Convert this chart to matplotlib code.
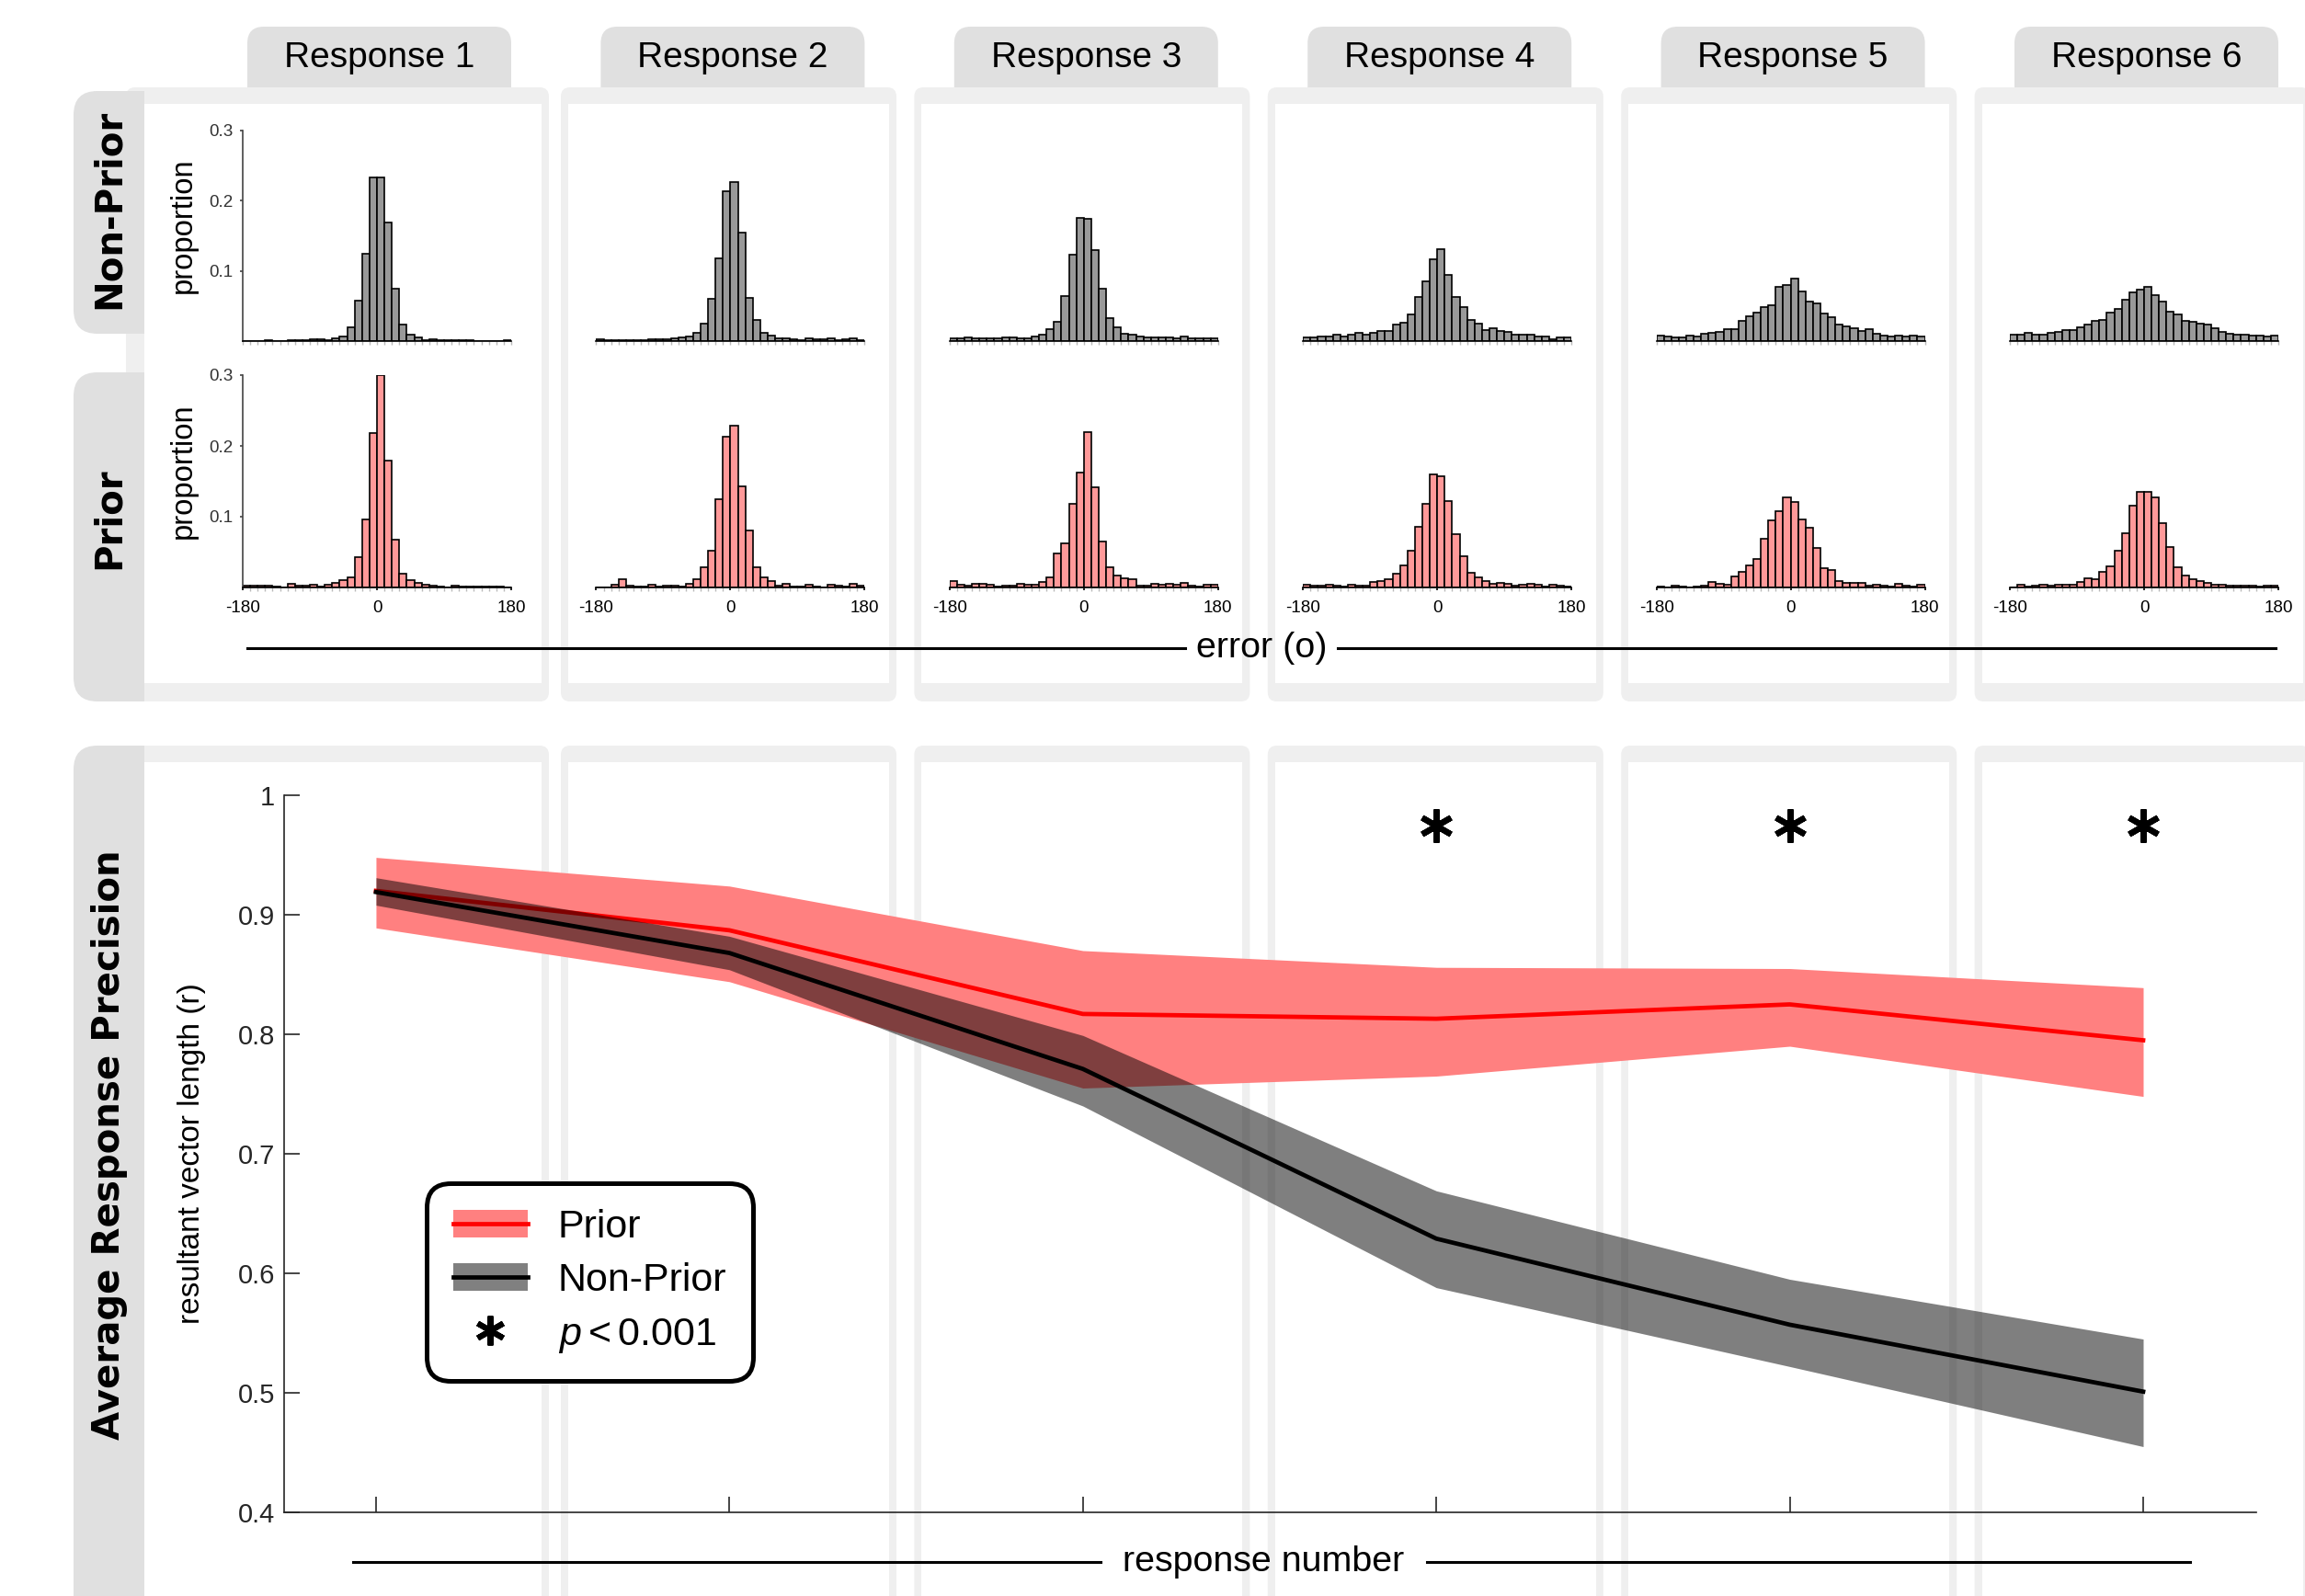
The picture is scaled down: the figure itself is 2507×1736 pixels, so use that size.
import numpy as np
import matplotlib.pyplot as plt
from matplotlib.patches import FancyBboxPatch, Rectangle, Patch
from matplotlib.lines import Line2D
from matplotlib.legend_handler import HandlerTuple

W, H, DPI = 2507, 1736, 200

plt.rcParams['font.family'] = ['Liberation Sans', 'DejaVu Sans']
plt.rcParams['mathtext.fontset'] = 'custom'
plt.rcParams['mathtext.rm'] = 'Liberation Sans'
plt.rcParams['mathtext.it'] = 'Liberation Sans:italic'

# ---- data ----
BIN_EDGES = np.arange(-180, 181, 10)   # 36 bins of 10 deg
RESPONSES = [1, 2, 3, 4, 5, 6]
RESPONSE_LABELS = ['Response 1', 'Response 2', 'Response 3', 'Response 4', 'Response 5', 'Response 6']

# proportion per error bin, non-prior trials
NONPRIOR_R1 = [0.0005, 0.0005, 0.0005, 0.001, 0.0005, 0.0005, 0.0008, 0.0008, 0.001, 0.003, 0.003, 0.001,
               0.0035, 0.0065, 0.020, 0.057, 0.125, 0.233, 0.233, 0.169, 0.075, 0.0235, 0.0096, 0.005,
               0.0017, 0.002, 0.001, 0.0008, 0.001, 0.0008, 0.0008, 0.0005, 0.0005, 0.0005, 0.0005, 0.0008]
NONPRIOR_R2 = [0.002, 0.0013, 0.0013, 0.0017, 0.0013, 0.001, 0.0017, 0.002, 0.002, 0.002, 0.0035, 0.005,
               0.007, 0.012, 0.025, 0.060, 0.118, 0.213, 0.226, 0.154, 0.061, 0.030, 0.0113, 0.0078,
               0.0044, 0.0035, 0.003, 0.0017, 0.0035, 0.002, 0.003, 0.0035, 0.0017, 0.002, 0.0035, 0.0017]
NONPRIOR_R3 = [0.0039, 0.0044, 0.0052, 0.0044, 0.0039, 0.0044, 0.0039, 0.0057, 0.0057, 0.0044, 0.0044, 0.007,
               0.0096, 0.017, 0.0279, 0.064, 0.1229, 0.1752, 0.1743, 0.1298, 0.075, 0.0331, 0.0196, 0.0109,
               0.0092, 0.007, 0.0057, 0.0057, 0.0048, 0.0048, 0.0039, 0.007, 0.0044, 0.0044, 0.0044, 0.0039]
NONPRIOR_R4 = [0.0052, 0.0057, 0.0065, 0.0065, 0.0092, 0.0065, 0.0087, 0.0113, 0.0092, 0.0113, 0.0144, 0.0144,
               0.0231, 0.0261, 0.0383, 0.0623, 0.0845, 0.1172, 0.1307, 0.0937, 0.0623, 0.0484, 0.0301, 0.0253,
               0.0153, 0.0183, 0.0148, 0.0131, 0.0092, 0.0087, 0.0087, 0.0065, 0.0065, 0.003, 0.0057, 0.0048]
NONPRIOR_R5 = [0.0078, 0.0065, 0.0057, 0.0057, 0.0078, 0.0061, 0.0109, 0.0118, 0.0135, 0.0174, 0.0174, 0.0283,
               0.0357, 0.0405, 0.0484, 0.0514, 0.0767, 0.0797, 0.0893, 0.0706, 0.0562, 0.0532, 0.0392, 0.034,
               0.0235, 0.0209, 0.0187, 0.0148, 0.017, 0.0105, 0.0083, 0.007, 0.0078, 0.0065, 0.0078, 0.007]
NONPRIOR_R6 = [0.0092, 0.0092, 0.0118, 0.0096, 0.0096, 0.0118, 0.0131, 0.0157, 0.0153, 0.0196, 0.0231, 0.0292,
               0.0301, 0.0401, 0.0453, 0.0588, 0.0693, 0.0732, 0.0767, 0.0649, 0.0558, 0.0418, 0.0379, 0.0283,
               0.0275, 0.0253, 0.0231, 0.0183, 0.0126, 0.0105, 0.0096, 0.0096, 0.0078, 0.0078, 0.0065, 0.0083]

# proportion per error bin, prior trials
PRIOR_R1 = [0.002, 0.002, 0.002, 0.002, 0.001, 0.0003, 0.005, 0.002, 0.002, 0.0035, 0.001, 0.0035,
            0.0065, 0.010, 0.014, 0.043, 0.096, 0.218, 0.300, 0.179, 0.068, 0.0195, 0.010, 0.0065,
            0.0035, 0.002, 0.0015, 0.0005, 0.0025, 0.0015, 0.001, 0.001, 0.001, 0.0015, 0.001, 0.0005]
PRIOR_R2 = [0.0004, 0.0005, 0.004, 0.0117, 0.0026, 0.0017, 0.0017, 0.0035, 0.0013, 0.0026, 0.0026, 0.0013,
            0.0048, 0.0117, 0.0286, 0.0524, 0.1249, 0.2124, 0.2289, 0.1426, 0.0802, 0.0286, 0.0139, 0.0091,
            0.0026, 0.0048, 0.0017, 0.0017, 0.0035, 0.0013, 0.0004, 0.0035, 0.0026, 0.0017, 0.0048, 0.0026]
PRIOR_R3 = [0.0091, 0.0039, 0.0022, 0.0048, 0.0048, 0.0035, 0.0017, 0.003, 0.003, 0.0048, 0.0035, 0.0035,
            0.0078, 0.0147, 0.0485, 0.0629, 0.1188, 0.1617, 0.2193, 0.1417, 0.065, 0.029, 0.0165, 0.0126,
            0.0117, 0.003, 0.003, 0.0048, 0.0039, 0.0048, 0.0039, 0.0061, 0.003, 0.0009, 0.0035, 0.0035]
PRIOR_R4 = [0.0035, 0.0022, 0.0022, 0.0035, 0.0022, 0.0009, 0.0035, 0.0026, 0.0026, 0.0078, 0.0091, 0.0121,
            0.0191, 0.0312, 0.0516, 0.0854, 0.1179, 0.160, 0.1569, 0.1222, 0.0754, 0.0438, 0.0204, 0.0139,
            0.0091, 0.0048, 0.0065, 0.0048, 0.0026, 0.0035, 0.0048, 0.0035, 0.0017, 0.0035, 0.0026, 0.0013]
PRIOR_R5 = [0.0017, 0.0004, 0.0026, 0.0017, 0.0002, 0.0013, 0.0022, 0.0078, 0.0048, 0.0039, 0.0156, 0.0221,
            0.0312, 0.0403, 0.0685, 0.0954, 0.1075, 0.127, 0.1214, 0.0958, 0.085, 0.0564, 0.0277, 0.0243,
            0.0095, 0.0069, 0.0069, 0.0069, 0.0026, 0.0035, 0.0026, 0.0017, 0.0048, 0.0026, 0.0009, 0.0035]
PRIOR_R6 = [0.0004, 0.0039, 0.0013, 0.0022, 0.0039, 0.0022, 0.0035, 0.0035, 0.0043, 0.0078, 0.0126, 0.0113,
            0.0225, 0.0299, 0.0524, 0.0763, 0.1157, 0.1357, 0.1348, 0.1274, 0.091, 0.0577, 0.0282, 0.0173,
            0.0121, 0.0087, 0.0069, 0.0035, 0.0039, 0.0022, 0.0026, 0.0022, 0.0026, 0.0009, 0.003, 0.0022]

# resultant vector length per response number
PRIOR_MEAN = [0.920, 0.887, 0.817, 0.813, 0.825, 0.795]
PRIOR_HI = [0.948, 0.924, 0.870, 0.856, 0.855, 0.839]
PRIOR_LO = [0.889, 0.844, 0.755, 0.765, 0.790, 0.748]
NONPRIOR_MEAN = [0.919, 0.868, 0.771, 0.629, 0.557, 0.501]
NONPRIOR_HI = [0.931, 0.882, 0.799, 0.669, 0.595, 0.545]
NONPRIOR_LO = [0.908, 0.854, 0.740, 0.588, 0.522, 0.455]
SIG_RESPONSES = [4, 5, 6]
SIG_Y = 0.975

NONPRIOR_HISTS = [NONPRIOR_R1, NONPRIOR_R2, NONPRIOR_R3, NONPRIOR_R4, NONPRIOR_R5, NONPRIOR_R6]
PRIOR_HISTS = [PRIOR_R1, PRIOR_R2, PRIOR_R3, PRIOR_R4, PRIOR_R5, PRIOR_R6]

# ---- layout (pixels of the output image) ----
COL_STEP = 384.4
TAB_GRAY = '#e0e0e0'
FRAME_GRAY = '#efefef'
HEAVY = dict(family='DejaVu Sans', fontweight='bold', fontsize=14.5)
STAR = (6, 2, 0)   # six-armed asterisk, one arm vertical


def frac(x0, y0, x1, y1):
    # pixel box (top-left origin) -> figure fraction rect
    return [x0 / W, 1 - y1 / H, (x1 - x0) / W, (y1 - y0) / H]


fig = plt.figure(figsize=(W / DPI, H / DPI), dpi=DPI)
fig.patch.set_facecolor('white')

bg = fig.add_axes([0, 0, 1, 1])
bg.set_xlim(0, W)
bg.set_ylim(H, 0)
bg.axis('off')

# column header tabs
for c in range(6):
    x0 = 269 + COL_STEP * c
    bg.add_patch(FancyBboxPatch((x0, 29), 287, 100, boxstyle='round,pad=0,rounding_size=18',
                                fc=TAB_GRAY, ec='none', zorder=1))
    bg.text(x0 + 143.5, 63, RESPONSE_LABELS[c], ha='center', va='center', fontsize=14, zorder=5)

# card frames + white interiors, top and bottom sections
cards = [(137, 597)] + [(610 + COL_STEP * (c - 1), 975 + COL_STEP * (c - 1)) for c in range(1, 6)]
for top, bottom in [(95, 763), (811, 1850)]:
    for c, (L, R) in enumerate(cards):
        bg.add_patch(FancyBboxPatch((L, top), R - L, bottom - top, boxstyle='round,pad=0,rounding_size=10',
                                    fc=FRAME_GRAY, ec='none', zorder=2))
        wl = 157 if c == 0 else L + 8
        bg.add_patch(Rectangle((wl, top + 18), R - 8 - wl, bottom - top - 38, fc='white', ec='none', zorder=4))

# row tabs: rounded on the left, square where they meet the cards
for y0, y1, label, ty in [(99, 363, 'Non-Prior', 227), (405, 763, 'Prior', 564),
                          (811, 1850, 'Average Response Precision', 1245)]:
    tab = FancyBboxPatch((80, y0), 130, y1 - y0, boxstyle='round,pad=0,rounding_size=26',
                         fc=TAB_GRAY, ec='none', zorder=3)
    bg.add_patch(tab)
    tab.set_clip_path(Rectangle((0, 0), 157, H + 200, transform=bg.transData))
    bg.text(119, ty, label, rotation=90, ha='center', va='center', zorder=5, **HEAVY)

# shared axis labels with broken rules
bg.plot([269, 1289], [705, 705], color='black', lw=1.1, zorder=5)
bg.plot([1455, 2475], [705, 705], color='black', lw=1.1, zorder=5)
bg.text(1372, 705, 'error (o)', ha='center', va='center', fontsize=14.2, zorder=5)
bg.plot([384, 1197], [1699, 1699], color='black', lw=1.1, zorder=5)
bg.plot([1552, 2382], [1699, 1699], color='black', lw=1.1, zorder=5)
bg.text(1374, 1699, 'response number', ha='center', va='center', fontsize=14.2, zorder=5)

# ---- histograms ----
rows = [(NONPRIOR_HISTS, '#999999', 142, 371, False),
        (PRIOR_HISTS, '#ff9999', 408, 639, True)]
for hists, color, y0, y1, labelled in rows:
    for c in range(6):
        x0 = 264 + COL_STEP * c
        ax = fig.add_axes(frac(x0, y0, x0 + 292, y1), facecolor='none')
        ax.bar(BIN_EDGES[:-1], hists[c], width=10, align='edge', color=color,
               edgecolor='black', linewidth=0.6)
        ax.set_xlim(-180, 180)
        ax.set_ylim(0, 0.3)
        for s in ['top', 'right']:
            ax.spines[s].set_visible(False)
        ax.spines['bottom'].set_linewidth(0.6)
        ax.set_xticks(BIN_EDGES, minor=True)
        ax.tick_params(axis='x', which='minor', direction='out', length=1.5, width=0.5, color='#bbbbbb')
        if labelled:
            ax.set_xticks([-180, 0, 180])
            ax.set_xticklabels(['-180', '0', '180'])
            ax.tick_params(axis='x', which='major', direction='out', length=1.2, width=0.6,
                           labelsize=6.8, pad=4)
        else:
            ax.set_xticks([])
        if c == 0:
            ax.spines['left'].set_linewidth(0.6)
            ax.spines['left'].set_color('#444444')
            ax.set_yticks([0.1, 0.2, 0.3])
            ax.set_yticklabels(['0.1', '0.2', '0.3'])
            ax.tick_params(axis='y', direction='out', length=1.2, width=0.6, labelsize=6.8, pad=2.5,
                           color='#444444', labelcolor='#333333')
            ax.text(-0.223, 0.55, 'proportion', transform=ax.transAxes, rotation=90,
                    ha='center', va='center', fontsize=11.8)
        else:
            ax.spines['left'].set_visible(False)
            ax.set_yticks([])

# ---- average precision ----
ax = fig.add_axes(frac(309, 865, 2454, 1645), facecolor='none')
ax.fill_between(RESPONSES, PRIOR_LO, PRIOR_HI, color='#ff8080', lw=0, zorder=1)
ax.plot(RESPONSES, PRIOR_MEAN, color='red', lw=1.7, zorder=2)
ax.fill_between(RESPONSES, NONPRIOR_LO, NONPRIOR_HI, color='black', alpha=0.5, lw=0, zorder=3)
ax.plot(RESPONSES, NONPRIOR_MEAN, color='black', lw=1.7, zorder=4)
ax.plot(SIG_RESPONSES, [SIG_Y] * len(SIG_RESPONSES), ls='none', marker=STAR, ms=13, mew=2.3,
        color='black', zorder=5)
ax.set_xlim(0.74, 6.32)
ax.set_ylim(0.4, 1.0)
ax.set_xticks(RESPONSES)
ax.set_xticklabels([])
ax.set_yticks([0.4, 0.5, 0.6, 0.7, 0.8, 0.9, 1.0])
ax.set_yticklabels(['0.4', '0.5', '0.6', '0.7', '0.8', '0.9', '1'])
ax.tick_params(direction='in', length=6.1, width=0.6, color='#262626', labelcolor='#262626',
               labelsize=10.5, pad=3.6)
for s in ['top', 'right']:
    ax.spines[s].set_visible(False)
for s in ['left', 'bottom']:
    ax.spines[s].set_linewidth(0.6)
    ax.spines[s].set_color('#262626')
ax.text(-0.047, 0.5, 'resultant vector length (r)', transform=ax.transAxes, rotation=90,
        ha='center', va='center', fontsize=12)

handles = [(Patch(fc='#ff8080', ec='none'), Line2D([], [], color='red', lw=1.7)),
           (Patch(fc='#808080', ec='none'), Line2D([], [], color='black', lw=1.7)),
           Line2D([], [], ls='none', marker=STAR, ms=11.5, mew=2.2, color='black')]
leg = ax.legend(handles, ['Prior', 'Non-Prior', r'$p<0.001$'],
                handler_map={tuple: HandlerTuple(ndivide=1, pad=0)},
                loc='upper left', bbox_to_anchor=(0.0723, 0.459), borderaxespad=0, fontsize=15.5,
                handlelength=1.9, handleheight=0.7, handletextpad=0.75, borderpad=0.66,
                labelspacing=0.42, frameon=True, framealpha=1, edgecolor='black', fancybox=True)
leg.get_frame().set_linewidth(1.8)
leg.get_frame().set_boxstyle('round', pad=0, rounding_size=0.6)

fig.savefig('out.png', dpi=DPI, facecolor='white')
